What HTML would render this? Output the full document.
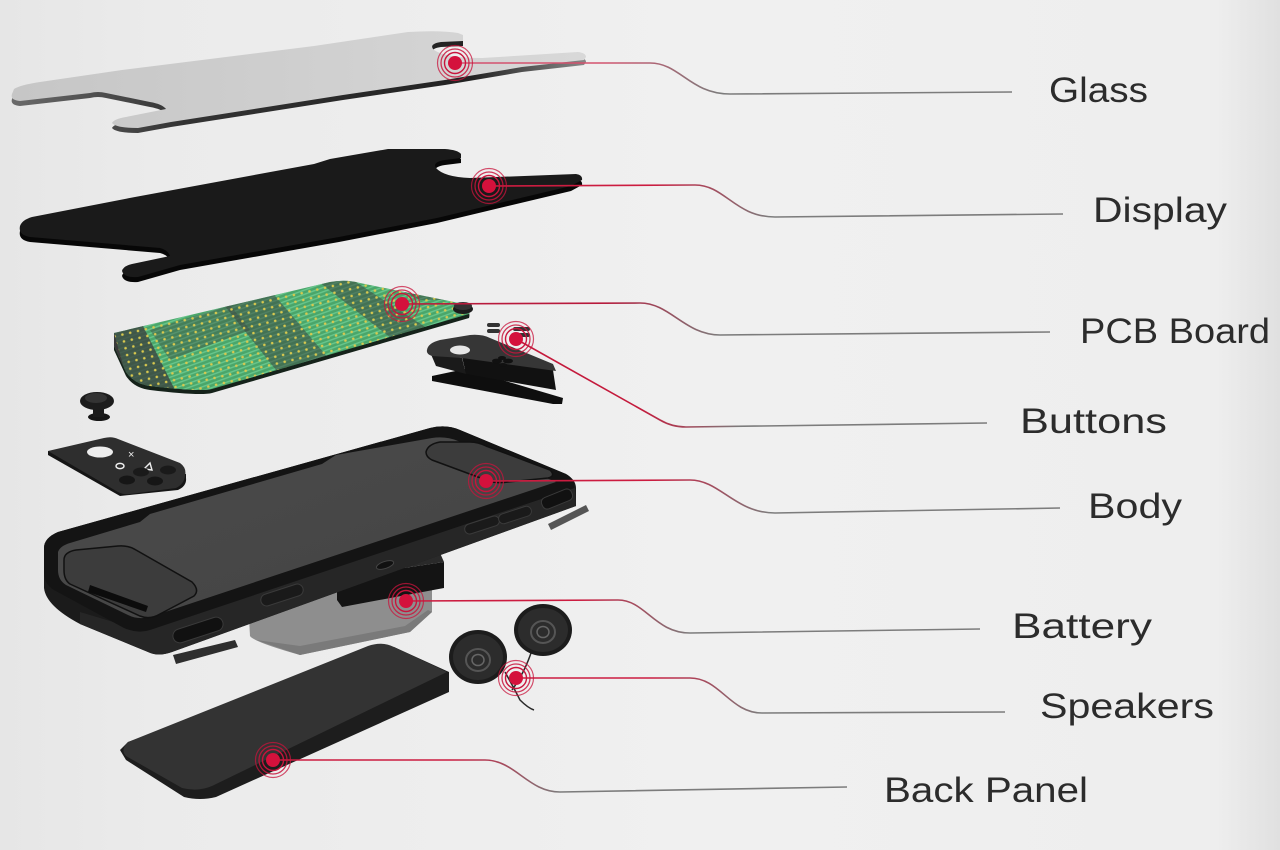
<!DOCTYPE html>
<html><head><meta charset="utf-8">
<style>
html,body{margin:0;padding:0;width:1280px;height:850px;overflow:hidden;background:#ececec}
svg{display:block}
</style></head><body>
<svg width="1280" height="850" viewBox="0 0 1280 850" xmlns="http://www.w3.org/2000/svg">
<defs>
<linearGradient id="bg" x1="0" y1="0" x2="1" y2="0">
<stop offset="0" stop-color="#e6e6e6"/><stop offset="0.12" stop-color="#ebebeb"/><stop offset="0.55" stop-color="#f0f0f0"/><stop offset="0.95" stop-color="#eeeeee"/><stop offset="1" stop-color="#e0e0e0"/>
</linearGradient>
<linearGradient id="glassTop" x1="0" y1="0" x2="1" y2="0">
<stop offset="0" stop-color="#c6c6c6"/><stop offset="1" stop-color="#d8d8d8"/>
</linearGradient>
<linearGradient id="glassEdge" x1="0" y1="0" x2="1" y2="0">
<stop offset="0" stop-color="#6a6a6a"/><stop offset="0.3" stop-color="#333"/><stop offset="0.8" stop-color="#222"/><stop offset="1" stop-color="#888"/>
</linearGradient>
<linearGradient id="recess" x1="0" y1="0" x2="1" y2="1">
<stop offset="0" stop-color="#4a4a4a"/><stop offset="1" stop-color="#444"/>
</linearGradient>
<pattern id="pdots" width="8" height="7" patternUnits="userSpaceOnUse" patternTransform="rotate(-13)">
<circle cx="4" cy="3.5" r="1.3" fill="#d9c94e"/>
</pattern>
<pattern id="ptr" width="4" height="4" patternUnits="userSpaceOnUse" patternTransform="rotate(70)">
<rect width="1.4" height="4" fill="#7fe0a8" opacity="0.55"/>
</pattern>
<clipPath id="pcbclip">
<path d="M114,333 L330,282 Q346,279 360,283 L464,304 Q471,307 469,314 L212,389 Q200,392 150,386 Q134,384 126,372 L114,346 Z"/>
</clipPath>
<linearGradient id="lg1" gradientUnits="userSpaceOnUse" x1="600" y1="0" x2="720" y2="0"><stop offset="0" stop-color="#d4526e"/><stop offset="1" stop-color="#7c7c7c"/></linearGradient>
<linearGradient id="lg2" gradientUnits="userSpaceOnUse" x1="650" y1="0" x2="770" y2="0"><stop offset="0" stop-color="#cc1c40"/><stop offset="1" stop-color="#7c7c7c"/></linearGradient>
<linearGradient id="lg3" gradientUnits="userSpaceOnUse" x1="600" y1="0" x2="720" y2="0"><stop offset="0" stop-color="#b81a3c"/><stop offset="1" stop-color="#7c7c7c"/></linearGradient>
<linearGradient id="lg4" gradientUnits="userSpaceOnUse" x1="640" y1="0" x2="740" y2="0"><stop offset="0" stop-color="#c41a3c"/><stop offset="1" stop-color="#7c7c7c"/></linearGradient>
<linearGradient id="lg5" gradientUnits="userSpaceOnUse" x1="650" y1="0" x2="770" y2="0"><stop offset="0" stop-color="#cc1c40"/><stop offset="1" stop-color="#7c7c7c"/></linearGradient>
<linearGradient id="lg6" gradientUnits="userSpaceOnUse" x1="580" y1="0" x2="690" y2="0"><stop offset="0" stop-color="#cc1c40"/><stop offset="1" stop-color="#7c7c7c"/></linearGradient>
<linearGradient id="lg7" gradientUnits="userSpaceOnUse" x1="650" y1="0" x2="760" y2="0"><stop offset="0" stop-color="#cc1c40"/><stop offset="1" stop-color="#7c7c7c"/></linearGradient>
<linearGradient id="lg8" gradientUnits="userSpaceOnUse" x1="450" y1="0" x2="560" y2="0"><stop offset="0" stop-color="#cc1c40"/><stop offset="1" stop-color="#7c7c7c"/></linearGradient>
<g id="dot">
<circle r="17.5" fill="none" stroke="#c8143c" stroke-width="1.2" opacity="0.75"/>
<circle r="14" fill="none" stroke="#c8143c" stroke-width="1.3" opacity="0.85"/>
<circle r="10.5" fill="none" stroke="#c8143c" stroke-width="1.4"/>
<circle r="7" fill="#d4113c"/>
</g>
</defs>

<rect width="1280" height="850" fill="url(#bg)"/>

<!-- ===== Battery ===== -->
<path d="M248,600 L250,636 Q254,642 300,655 L410,632 L432,612 L432,572 L250,596 Z" fill="#8e8e8e"/>
<path d="M256,640 L300,655 L410,632 L432,612 L428,610 L405,626 L300,646 Z" fill="#7a7a7a"/>
<path d="M337,578 L444,562 L444,588 L342,607 L337,600 Z" fill="#141414"/>
<path d="M337,578 L346,566 L440,553 L444,562 Z" fill="#2a2a2a"/>

<!-- ===== Body ===== -->
<path d="M44,548 Q44,538 58,532 L430,428 Q446,424 460,430 L566,474 Q576,480 576,488 L576,506 L172,652 Q158,657 148,652 L80,624 Q46,606 44,588 Z" fill="#1b1b1b"/>
<path d="M80,612 L140,630 L575,488 L576,506 L172,652 Q158,657 148,652 L80,624 Z" fill="#262626"/>
<path d="M44,548 Q44,538 58,532 L430,428 Q446,424 460,430 L566,474 Q576,480 574,488 L150,630 Q138,634 124,628 L54,590 Q44,584 44,572 Z" fill="#141414"/>
<path d="M58,552 Q60,546 70,543 L140,522 L150,514 L322,464 L336,455 L432,438 Q446,436 458,441 L556,482 L150,617 Q138,620 128,615 L66,585 Q58,580 58,570 Z" fill="url(#recess)"/>
<path d="M64,560 Q64,552 76,550 L118,546 Q128,545 136,550 L192,582 Q200,590 194,596 L160,614 Q150,620 140,616 L70,584 Q64,580 64,570 Z" fill="#3c3c3c" stroke="#111" stroke-width="1.5"/>
<path d="M426,452 Q428,444 440,442 L470,442 Q478,442 486,446 L550,470 Q556,476 548,478 L508,482 Q496,484 486,480 L432,460 Q426,457 426,452 Z" fill="#3c3c3c" stroke="#111" stroke-width="1.5"/>
<path d="M90,585 L148,606 L146,612 L88,592 Z" fill="#0c0c0c"/>
<g transform="translate(282,595) rotate(-18)"><rect x="-22" y="-6" width="44" height="12" rx="6" fill="#1a1a1a" stroke="#3a3a3a" stroke-width="1"/></g>
<g transform="translate(482,525) rotate(-18)"><rect x="-18" y="-5" width="36" height="10" rx="5" fill="#1a1a1a" stroke="#3a3a3a" stroke-width="1"/></g>
<g transform="translate(515,515) rotate(-18)"><rect x="-17" y="-5" width="34" height="10" rx="5" fill="#1a1a1a" stroke="#3a3a3a" stroke-width="1"/></g>
<g transform="translate(198,630) rotate(-18)"><rect x="-26" y="-7" width="52" height="14" rx="7" fill="#111" stroke="#3a3a3a" stroke-width="1"/></g>
<g transform="translate(557,499) rotate(-22)"><rect x="-16" y="-6" width="32" height="12" rx="5" fill="#111" stroke="#3a3a3a" stroke-width="1"/></g>
<ellipse cx="385" cy="565" rx="9" ry="3.5" fill="#111" stroke="#444" stroke-width="1" transform="rotate(-18 385 565)"/>

<!-- small loose bars -->
<path d="M173,655 L235,640 L238,647 L176,664 Z" fill="#2e2e2e"/>
<path d="M548,524 L586,505 L589,511 L551,530 Z" fill="#555"/>

<!-- ===== Back panel ===== -->
<path d="M120,750 L126,760 L184,797 Q200,801 216,797 L449,692 L449,672 L394,647 L128,742 Z" fill="#1d1d1d"/>
<path d="M128,742 L368,646 Q382,641 394,647 L447,672 L212,786 Q198,792 182,788 L126,756 Q120,750 128,742 Z" fill="#333"/>

<!-- ===== Speakers ===== -->
<path d="M505,672 Q515,690 520,700 Q528,708 534,710" fill="none" stroke="#2a2a2a" stroke-width="1.5"/>
<path d="M532,650 Q525,672 512,690" fill="none" stroke="#2a2a2a" stroke-width="1.5"/>
<ellipse cx="543" cy="630" rx="29" ry="26" fill="#1c1c1c"/>
<ellipse cx="543" cy="630" rx="25" ry="22" fill="#2c2c2c"/>
<ellipse cx="543" cy="632" rx="12" ry="11" fill="none" stroke="#555" stroke-width="2"/>
<ellipse cx="543" cy="632" rx="6" ry="5.5" fill="none" stroke="#666" stroke-width="1.5"/>
<ellipse cx="478" cy="657" rx="29" ry="27" fill="#1c1c1c"/>
<ellipse cx="478" cy="657" rx="25" ry="23" fill="#2c2c2c"/>
<ellipse cx="478" cy="660" rx="12" ry="11" fill="none" stroke="#555" stroke-width="2"/>
<ellipse cx="478" cy="660" rx="6" ry="5.5" fill="none" stroke="#666" stroke-width="1.5"/>

<!-- ===== Face plate ===== -->
<path d="M48,455 L120,496 L178,490 Q187,486 186,478 L186,474 L48,451 Z" fill="#151515"/>
<path d="M48,451 L104,438 Q112,436 118,439 L180,463 Q187,468 185,476 Q184,484 176,488 L130,494 Q124,495 118,492 Z" fill="#2e2e2e"/>
<ellipse cx="100" cy="452" rx="13" ry="5.5" fill="#ededed"/>
<text x="128" y="458" font-family="Liberation Sans, sans-serif" font-size="11" fill="#eee">×</text>
<ellipse cx="120" cy="466" rx="4" ry="2.6" fill="none" stroke="#eee" stroke-width="1.5"/>
<path d="M144,469 L150,463 L152,470 Z" fill="none" stroke="#eee" stroke-width="1.4"/>
<ellipse cx="127" cy="480" rx="8" ry="4.5" fill="#161616"/>
<ellipse cx="141" cy="472" rx="8" ry="4.5" fill="#1a1a1a"/>
<ellipse cx="155" cy="481" rx="8" ry="4.5" fill="#161616"/>
<ellipse cx="168" cy="470" rx="8" ry="4.5" fill="#1a1a1a"/>

<!-- ===== Thumbstick ===== -->
<ellipse cx="99" cy="417" rx="11" ry="4" fill="#151515"/>
<rect x="93" y="406" width="11" height="11" fill="#1a1a1a"/>
<ellipse cx="97" cy="401" rx="17" ry="9" fill="#1c1c1c"/>
<ellipse cx="96" cy="398" rx="11" ry="5" fill="#333"/>

<!-- ===== PCB ===== -->
<path d="M114,337 L330,286 L464,308 Q471,311 469,318 L212,393 Q200,396 150,390 Q134,388 126,376 L114,350 Z" fill="#15221a"/>
<g clip-path="url(#pcbclip)">
<rect x="100" y="270" width="380" height="130" fill="#4aa66a"/>
<rect x="100" y="270" width="380" height="130" fill="url(#ptr)"/>
<path d="M100,320 L140,320 L180,400 L100,400 Z" fill="#3c4440" opacity="0.8"/>
<path d="M220,300 L270,290 L360,395 L300,400 Z" fill="#3e4742" opacity="0.55"/>
<path d="M310,275 L345,275 L430,330 L400,345 Z" fill="#3e4742" opacity="0.55"/>
<path d="M380,280 L480,280 L480,300 L420,300 Z" fill="#3e4742" opacity="0.5"/>
<path d="M150,330 L230,305 L250,330 L170,360 Z" fill="#3e4742" opacity="0.4"/>
<rect x="100" y="270" width="380" height="130" fill="url(#pdots)"/>
<path d="M100,330 L114,333 L125,372 L100,390 Z" fill="#3a3a3a"/>
</g>

<!-- ===== Button bracket ===== -->
<path d="M432,376 L465,369 L563,398 L562,404 L553,404 L432,381 Z" fill="#0e0e0e"/>
<path d="M462,357 L553,370 L556,390 L466,374 Z" fill="#111"/>
<path d="M430,352 L462,358 L466,374 L436,366 Z" fill="#1a1a1a"/>
<path d="M427,350 Q428,343 440,340 L470,335 Q482,334 490,338 L553,364 L556,371 L462,358 L432,356 Q426,354 427,350 Z" fill="#363636"/>
<ellipse cx="460" cy="350" rx="10" ry="4.5" fill="#e6e6e6"/>
<ellipse cx="497" cy="361" rx="5" ry="2.4" fill="#111"/>
<ellipse cx="508" cy="361" rx="5" ry="2.4" fill="#111"/>
<ellipse cx="502" cy="358" rx="4" ry="2" fill="#111"/>
<ellipse cx="503" cy="365" rx="4" ry="2" fill="#111"/>
<rect x="487" y="323" width="13" height="4" rx="2" fill="#333"/>
<rect x="487" y="329" width="13" height="4" rx="2" fill="#333"/>
<rect x="513" y="327" width="17" height="4" rx="2" fill="#333"/>
<rect x="513" y="333" width="17" height="4" rx="2" fill="#333"/>
<ellipse cx="463" cy="309" rx="10" ry="5" fill="#1c1c1c"/>
<ellipse cx="463" cy="306" rx="9" ry="4" fill="#333"/>

<!-- ===== Display ===== -->
<path d="M20,231 Q22,225 32,222 L135,202 L314,169 L330,164 L388,154 L445,154 Q458,155 461,159 L461,163 L445,165 Q432,167 436,173 Q444,182 470,183 L576,179 Q583,180 582,185 L571,191 L437,223 L339,242 L180,270 L138,282 Q124,283 122,276 Q123,271 132,269 L170,261 Q168,255 160,253 L30,242 Q18,240 20,231 Z" fill="#070707"/>
<path d="M20,226 Q22,220 32,217 L135,197 L314,164 L330,159 L388,149 L445,149 Q458,150 461,154 L461,158 L445,160 Q432,162 436,168 Q444,177 470,178 L576,174 Q583,175 582,180 L571,186 L437,218 L339,237 L180,265 L138,277 Q124,278 122,271 Q123,266 132,264 L170,256 Q168,250 160,248 L30,237 Q18,235 20,226 Z" fill="#1a1a1a"/>

<!-- ===== Glass ===== -->
<path transform="translate(0,5)" d="M14,89 Q20,85 40,82 L122,70 L314,46 L408,32 Q440,30 458,33 L463,35 L463,41 L441,42 Q428,44 434,50 Q446,58 482,58 L578,52 Q586,53 586,57 L584,60 L522,67 L445,80 L343,95 L171,122 L138,128 Q116,128 112,123 Q114,119 126,117 L166,109 Q162,104 150,102 L106,93 Q98,91 90,93 L20,101 Q10,100 12,94 Z" fill="url(#glassEdge)"/>
<path d="M14,89 Q20,85 40,82 L122,70 L314,46 L408,32 Q440,30 458,33 L463,35 L463,41 L441,42 Q428,44 434,50 Q446,58 482,58 L578,52 Q586,53 586,57 L584,60 L522,67 L445,80 L343,95 L171,122 L138,128 Q116,128 112,123 Q114,119 126,117 L166,109 Q162,104 150,102 L106,93 Q98,91 90,93 L20,101 Q10,100 12,94 Z" fill="url(#glassTop)"/>

<!-- ===== Connector lines ===== -->
<g fill="none" stroke-width="1.6">
<path d="M455,63 L650,63 C680,63 690,94 730,94 L1012,92" stroke="url(#lg1)"/>
<path d="M489,186 L695,185 C725,185 735,217 775,217 L1063,214" stroke="url(#lg2)"/>
<path d="M402,304 L640,303 C670,303 685,335 720,335 L1050,332" stroke="url(#lg3)"/>
<path d="M516,339 L660,420 Q672,427 686,427 L987,423" stroke="url(#lg4)"/>
<path d="M486,481 L690,480 C720,480 735,513 775,513 L1060,508" stroke="url(#lg5)"/>
<path d="M406,601 L618,600 C645,600 655,633 690,633 L980,629" stroke="url(#lg6)"/>
<path d="M516,678 L690,678 C720,678 730,713 762,713 L1005,712" stroke="url(#lg7)"/>
<path d="M273,760 L485,760 C515,760 528,792 560,792 L847,787" stroke="url(#lg8)"/>
</g>

<!-- ===== Dots ===== -->
<use href="#dot" x="455" y="63"/>
<use href="#dot" x="489" y="186"/>
<use href="#dot" x="402" y="304"/>
<use href="#dot" x="516" y="339"/>
<use href="#dot" x="486" y="481"/>
<use href="#dot" x="406" y="601"/>
<use href="#dot" x="516" y="678"/>
<use href="#dot" x="273" y="760"/>

<!-- ===== Labels ===== -->
<g font-family="Liberation Sans, sans-serif" font-size="35" fill="#2c2c2c">
<text x="1049" y="102" textLength="99" lengthAdjust="spacingAndGlyphs">Glass</text>
<text x="1093" y="222" textLength="134" lengthAdjust="spacingAndGlyphs">Display</text>
<text x="1080" y="343" textLength="190" lengthAdjust="spacingAndGlyphs">PCB Board</text>
<text x="1020" y="433" textLength="147" lengthAdjust="spacingAndGlyphs">Buttons</text>
<text x="1088" y="518" textLength="94" lengthAdjust="spacingAndGlyphs">Body</text>
<text x="1012" y="638" textLength="140" lengthAdjust="spacingAndGlyphs">Battery</text>
<text x="1040" y="718" textLength="174" lengthAdjust="spacingAndGlyphs">Speakers</text>
<text x="884" y="802" textLength="204" lengthAdjust="spacingAndGlyphs">Back Panel</text>
</g>
</svg>
</body></html>
